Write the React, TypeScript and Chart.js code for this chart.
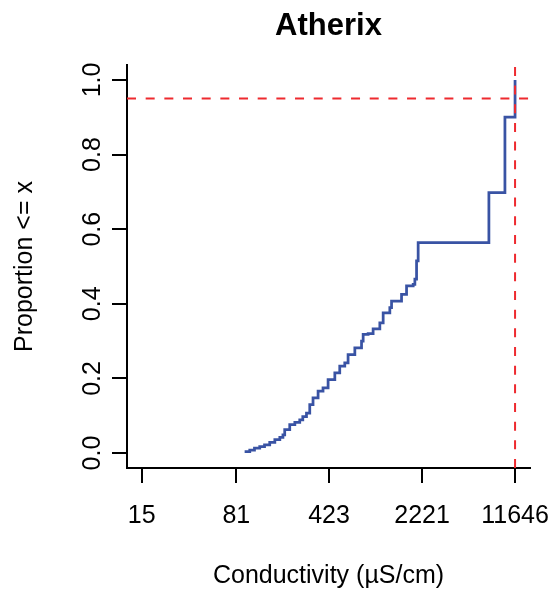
import React, { useEffect, useRef } from 'react';
import { Chart, registerables } from 'chart.js';

Chart.register(...registerables);

// ---- data ----
const chartTitle = 'Atherix';
const xAxisTitle = 'Conductivity (µS/cm)';
const yAxisTitle = 'Proportion <= x';

// ECDF step points (conductivity, cumulative proportion)
const conductivity = [
  94, 103, 112, 123, 134, 147, 161, 176, 186, 192,
  210, 230, 251, 265, 283, 300, 318, 348, 380, 416,
  469, 512, 560, 594, 670, 755, 777, 849, 928, 1046,
  1110, 1250, 1289, 1540, 1684, 1895, 1953, 2013, 2071, 7307,
  9723, 11646,
];
const proportion = [
  0.004, 0.008, 0.013, 0.017, 0.022, 0.029, 0.036, 0.042, 0.049, 0.063,
  0.076, 0.082, 0.089, 0.098, 0.107, 0.130, 0.148, 0.166, 0.175, 0.197,
  0.215, 0.233, 0.242, 0.264, 0.282, 0.300, 0.318, 0.320, 0.333, 0.349,
  0.376, 0.390, 0.407, 0.425, 0.448, 0.452, 0.466, 0.515, 0.564, 0.698,
  0.900, 1.0,
];

const xTickValues = [15, 81, 423, 2221, 11646];
const xTickLabels = ['15', '81', '423', '2221', '11646'];
const yTickValues = [0, 0.2, 0.4, 0.6, 0.8, 1.0];
const yTickLabels = ['0.0', '0.2', '0.4', '0.6', '0.8', '1.0'];

const refProportion = 0.95;
const refConductivity = 11646;

const xMin = 11.55;
const xMax = 15200;
const yMin = -0.04;
const yMax = 1.04;

const FONT_FAMILY = '"Liberation Sans", Arial, Helvetica, sans-serif';

const textPlugin = {
  id: 'rStyleText',
  afterDraw(chart: any) {
    const { ctx, chartArea, scales } = chart;
    const xs = scales.x;
    const ys = scales.y;
    ctx.save();
    ctx.fillStyle = '#000000';
    ctx.font = `25px ${FONT_FAMILY}`;
    ctx.textAlign = 'center';
    ctx.textBaseline = 'alphabetic';
    xTickValues.forEach((v, i) => {
      ctx.fillText(xTickLabels[i], xs.getPixelForValue(v), 523);
    });
    const xc = (chartArea.left + chartArea.right) / 2;
    const yc = (chartArea.top + chartArea.bottom) / 2;
    ctx.fillText(xAxisTitle, xc, 583);

    yTickValues.forEach((v, i) => {
      ctx.save();
      ctx.translate(100, ys.getPixelForValue(v));
      ctx.rotate(-Math.PI / 2);
      ctx.fillText(yTickLabels[i], 0, 0);
      ctx.restore();
    });

    ctx.save();
    ctx.translate(32, yc);
    ctx.rotate(-Math.PI / 2);
    ctx.fillText(yAxisTitle, 0, 0);
    ctx.restore();

    ctx.font = `bold 31px ${FONT_FAMILY}`;
    ctx.fillText(chartTitle, xc, 35);
    ctx.restore();
  },
};

export default function App() {
  const canvasRef = useRef<HTMLCanvasElement | null>(null);

  useEffect(() => {
    const canvas = canvasRef.current;
    if (!canvas) return;

    const axisCommon = {
      ticks: { display: false },
      grid: {
        display: true,
        drawOnChartArea: false,
        drawTicks: true,
        tickLength: 15,
        tickWidth: 2,
        tickColor: '#000000',
        lineWidth: 2,
        color: '#000000',
      },
      border: { display: true, color: '#000000', width: 2 },
    };

    const chart = new Chart(canvas, {
      type: 'line',
      data: {
        datasets: [
          {
            label: 'ECDF',
            data: conductivity.map((x, i) => ({ x, y: proportion[i] })),
            borderColor: '#3953A4',
            borderWidth: 2.75,
            pointRadius: 0,
            stepped: 'before',
            fill: false,
            order: 2,
          },
          {
            label: '0.95 level',
            data: [
              { x: xMin, y: refProportion },
              { x: xMax, y: refProportion },
            ],
            borderColor: '#EE2A2F',
            borderWidth: 2,
            borderDash: [9, 9.67],
            pointRadius: 0,
            fill: false,
            order: 1,
          },
          {
            label: '95th percentile',
            data: [
              { x: refConductivity, y: yMin },
              { x: refConductivity, y: yMax },
            ],
            borderColor: '#EE2A2F',
            borderWidth: 2,
            borderDash: [9, 9.67],
            pointRadius: 0,
            fill: false,
            order: 0,
          },
        ],
      },
      options: {
        responsive: false,
        animation: false,
        devicePixelRatio: 1,
        layout: { padding: { left: 112, right: 24, top: 65, bottom: 108 } },
        plugins: {
          legend: { display: false },
          title: { display: false },
          tooltip: { enabled: false },
        },
        scales: {
          x: {
            type: 'logarithmic',
            min: xMin,
            max: xMax,
            afterBuildTicks: (s: any) => {
              s.ticks = xTickValues.map((v) => ({ value: v }));
            },
            ...axisCommon,
          },
          y: {
            type: 'linear',
            min: yMin,
            max: yMax,
            afterBuildTicks: (s: any) => {
              s.ticks = yTickValues.map((v) => ({ value: v }));
            },
            ...axisCommon,
          },
        },
      },
      plugins: [textPlugin],
    } as any);

    return () => chart.destroy();
  }, []);

  return (
    <div style={{ position: 'fixed', left: 0, top: 0, width: 554, height: 591, background: '#ffffff' }}>
      <canvas ref={canvasRef} width={554} height={591} style={{ width: 554, height: 591, display: 'block' }} />
    </div>
  );
}
